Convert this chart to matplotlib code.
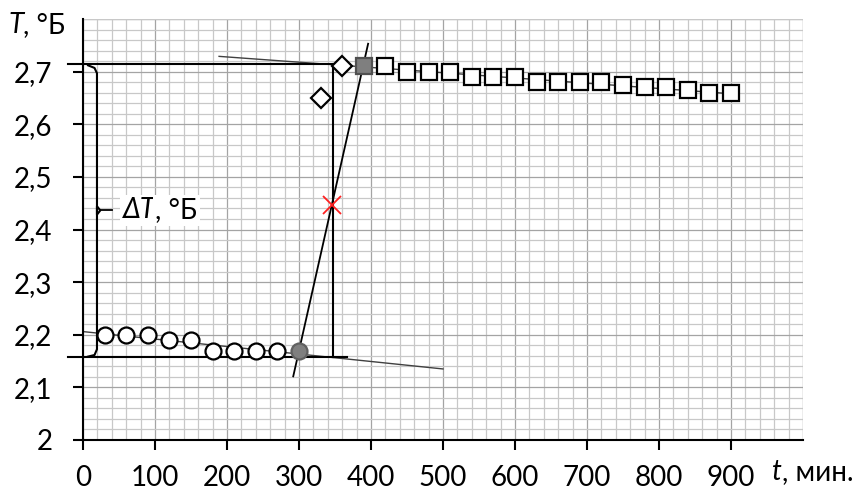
import numpy as np
import matplotlib
matplotlib.use("Agg")
import matplotlib.pyplot as plt
from matplotlib.ticker import MultipleLocator

plt.rcParams['font.family'] = ['Lato', 'DejaVu Sans']
plt.rcParams['font.size'] = 20

# readings, initial period (circles)
t_before = [30, 60, 90, 120, 150, 180, 210, 240, 270]
T_before = [2.20, 2.20, 2.20, 2.19, 2.19, 2.17, 2.17, 2.17, 2.17]
# last point of initial period (grey circle)
t_start = [300]
T_start = [2.17]
# main period (diamonds)
t_main = [330, 360]
T_main = [2.65, 2.71]
# first point of final period (grey square)
t_end = [390]
T_end = [2.71]
# final period (squares)
t_after = [420, 450, 480, 510, 540, 570, 600, 630, 660, 690, 720,
           750, 780, 810, 840, 870, 900]
T_after = [2.71, 2.70, 2.70, 2.70, 2.69, 2.69, 2.69, 2.68, 2.68, 2.68, 2.68,
           2.675, 2.67, 2.67, 2.665, 2.66, 2.66]

# construction lines
trend_before_t = [0, 500]
trend_before_T = [2.206, 2.135]
trend_after_t = [189, 900]
trend_after_T = [2.729, 2.658]
steep_t = [292, 396]
steep_T = [2.121, 2.753]
t_mid = 347
T_low = 2.1575
T_high = 2.715
T_cross = 2.446

x_ticks = [0, 100, 200, 300, 400, 500, 600, 700, 800, 900]
y_ticks = [2.0, 2.1, 2.2, 2.3, 2.4, 2.5, 2.6, 2.7]
y_labels = ["2", "2,1", "2,2", "2,3", "2,4", "2,5", "2,6", "2,7"]


def main():
    fig = plt.figure(figsize=(8.59, 4.95), dpi=100)
    ax = fig.add_axes([83 / 859, 1 - 440 / 495, 720 / 859, 421 / 495])

    ax.set_xlim(0, 1000)
    ax.set_ylim(2.0, 2.8)

    # graph-paper grid
    ax.xaxis.set_minor_locator(MultipleLocator(20))
    ax.yaxis.set_minor_locator(MultipleLocator(0.02))
    ax.grid(which='minor', color='#c8c8c8', lw=0.9, zorder=0)
    ax.grid(which='major', color='#a4a4a4', lw=0.9, zorder=0)
    ax.axvline(1000, color='#a4a4a4', lw=0.9, zorder=0)
    ax.axhline(2.8, color='#a4a4a4', lw=0.9, zorder=0)
    ax.set_axisbelow(True)

    ax.set_xticks(x_ticks)
    ax.set_yticks(y_ticks)
    ax.set_yticklabels(y_labels)
    ax.tick_params(which='major', direction='out', length=7, width=1.5,
                   color='black', labelsize=20)
    ax.tick_params(axis='y', pad=15)
    ax.tick_params(axis='x', pad=11)
    ax.tick_params(which='minor', length=0)
    for s in ['top', 'right']:
        ax.spines[s].set_visible(False)
    for s in ['left', 'bottom']:
        ax.spines[s].set_linewidth(1.5)
        ax.spines[s].set_zorder(5)

    # trend lines
    ax.plot(trend_before_t, trend_before_T, color='#404040', lw=1.0, zorder=2)
    ax.plot(trend_after_t, trend_after_T, color='#404040', lw=1.0, zorder=2)
    ax.plot(steep_t, steep_T, color='black', lw=1.3, zorder=2)

    # construction lines for delta T
    ax.plot([-21, t_mid], [T_high, T_high], color='black', lw=1.5,
            clip_on=False, zorder=3)
    ax.plot([-21, 367], [T_low, T_low], color='black', lw=1.5,
            clip_on=False, zorder=3)
    ax.plot([t_mid, t_mid], [T_low, T_high], color='black', lw=1.5, zorder=3)

    # curly brace
    T_c = (T_low + T_high) / 2
    brace_t = [7, 16, 19.4, 19.4, 24, 19.4, 19.4, 16, 7]
    brace_T = [T_high - 0.003, T_high - 0.008, T_high - 0.018, T_c - 0.008,
               T_c, T_c + 0.008, T_low + 0.015, T_low + 0.004, T_low + 0.001]
    ax.plot(brace_t, brace_T, color='black', lw=1.5, clip_on=False, zorder=3)
    ax.plot([24, 40], [T_c, T_c], color='black', lw=1.3, zorder=3)

    # points
    ax.plot(t_before, T_before, 'o', ms=11.5, mfc='white', mec='black',
            mew=1.6, zorder=4)
    ax.plot(t_start, T_start, 'o', ms=11.5, mfc='#7f7f7f', mec='#606060',
            mew=1.6, zorder=4)
    ax.plot(t_main, T_main, 'D', ms=10.5, mfc='white', mec='black',
            mew=1.6, zorder=4)
    ax.plot(t_end, T_end, 's', ms=11, mfc='#7f7f7f', mec='#505050',
            mew=1.6, zorder=4)
    ax.plot(t_after, T_after, 's', ms=11, mfc='white', mec='black',
            mew=1.6, zorder=4)
    ax.plot([t_mid - 1], [T_cross], 'x', ms=13, color='#ff2020', mew=1.3,
            zorder=5)

    # labels
    lbl = ax.text(55, T_c, "ΔT", style='italic', va='center', ha='left',
                  fontsize=20, zorder=6,
                  bbox=dict(facecolor='white', edgecolor='none', pad=2))
    ax.annotate(", °Б", xy=(1, 0.5), xycoords=lbl, va='center', ha='left',
                fontsize=20, zorder=6,
                bbox=dict(facecolor='white', edgecolor='none', pad=2))

    ty = fig.text(8 / 859, 1 - 33 / 495, "T", style='italic', fontsize=20,
                  va='baseline', ha='left')
    ax.annotate(", °Б", xy=(1, 0), xycoords=ty, va='bottom', ha='left',
                fontsize=20, annotation_clip=False)

    tx = fig.text(772 / 859, 1 - 480 / 495, "t", style='italic', fontsize=20,
                  va='baseline', ha='left')
    ax.annotate(", мин.", xy=(1, 0), xycoords=tx, va='bottom', ha='left',
                fontsize=20, annotation_clip=False)

    fig.savefig("out.png", dpi=100)


if __name__ == "__main__":
    main()
